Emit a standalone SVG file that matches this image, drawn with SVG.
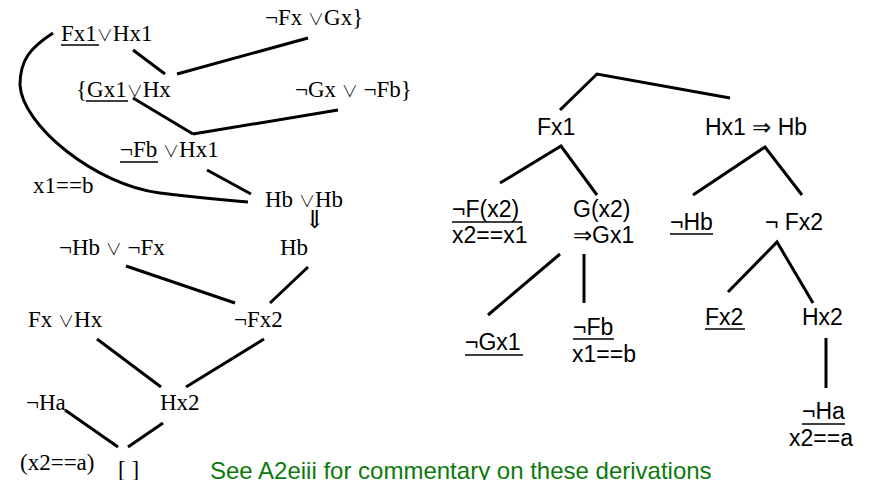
<svg xmlns="http://www.w3.org/2000/svg" width="875" height="480" viewBox="0 0 875 480">
<style>
.s{font-family:"Liberation Serif","Times New Roman",serif;font-size:23px;fill:#000}
.a{font-family:"Liberation Sans",Arial,sans-serif;font-size:23px;fill:#000}
.g{font-family:"Liberation Sans",Arial,sans-serif;font-size:24px;fill:#0b7a0b}
.v{font-family:"Noto Sans CJK JP","DejaVu Sans",sans-serif;font-weight:300;font-size:16px}
.d{font-family:"DejaVu Serif",serif;font-size:25px;fill:#000}
.c line,.c path{stroke:#000;stroke-width:3;fill:none}
.u{stroke:#000;stroke-width:1.5}
</style>
<rect width="875" height="480" fill="#fff"/>
<g id="connectors" class="c">
<line x1="133" y1="50" x2="165" y2="74"/>
<line x1="177" y1="74" x2="308" y2="38"/>
<line x1="133" y1="98" x2="193" y2="134"/>
<line x1="193" y1="134" x2="338" y2="110"/>
<path d="M53,33 C30,48 20,60 20,85 C22,125 95,185 160,193 C200,198 225,200 248,202"/>
<line x1="207" y1="170" x2="251" y2="194"/>
<line x1="126" y1="266" x2="235" y2="303"/>
<line x1="308" y1="267" x2="270" y2="303"/>
<line x1="97" y1="339" x2="161" y2="387"/>
<line x1="264" y1="339" x2="186" y2="387"/>
<line x1="65" y1="410" x2="118" y2="447"/>
<line x1="163" y1="423" x2="128" y2="447"/>
<path d="M560,110 L597,74 L730,98"/>
<path d="M500,183 L561,146 L597,195"/>
<path d="M693,195 L765,147 L802,195"/>
<line x1="560" y1="254" x2="488" y2="315"/>
<line x1="584" y1="254" x2="584" y2="303"/>
<path d="M728,292 L777,242 L813,303"/>
<line x1="826" y1="338" x2="826" y2="388"/>
</g>
<g id="n-fx1hx1"><text class="s" x="61" y="41">Fx1<tspan class="v">∨</tspan>Hx1</text><line class="u" x1="61" y1="45" x2="99" y2="45"/></g>
<g id="n-fxgx"><text class="s" x="265" y="25">¬Fx <tspan class="v">∨</tspan>Gx}</text></g>
<g id="n-gx1hx"><text class="s" x="76" y="97">{Gx1<tspan class="v">∨</tspan>Hx</text><line class="u" x1="86" y1="101" x2="128" y2="101"/></g>
<g id="n-gxfb"><text class="s" x="295" y="97">¬Gx <tspan class="v">∨</tspan> ¬Fb}</text></g>
<g id="n-fbhx1"><text class="s" x="120" y="157">¬Fb <tspan class="v">∨</tspan>Hx1</text><line class="u" x1="120" y1="162" x2="158" y2="162"/></g>
<g id="n-x1b"><text class="s" x="33" y="193">x1==b</text></g>
<g id="n-hbhb"><text class="s" x="265" y="207">Hb <tspan class="v">∨</tspan>Hb</text><text class="d" x="315" y="228" text-anchor="middle">⇓</text></g>
<g id="n-hbfx"><text class="s" x="59" y="255">¬Hb <tspan class="v">∨</tspan> ¬Fx</text></g>
<g id="n-hb"><text class="s" x="280" y="255">Hb</text></g>
<g id="n-fxhx"><text class="s" x="28" y="327">Fx <tspan class="v">∨</tspan>Hx</text></g>
<g id="n-fx2"><text class="s" x="234" y="327">¬Fx2</text></g>
<g id="n-ha"><text class="s" x="26" y="410">¬Ha</text></g>
<g id="n-hx2"><text class="s" x="160" y="410">Hx2</text></g>
<g id="n-x2a"><text class="s" x="20" y="470">(x2==a)</text></g>
<g id="n-empty"><text class="s" x="118" y="477">[ ]</text></g>
<g id="r-fx1"><text class="a" x="537" y="135">Fx1</text></g>
<g id="r-hx1hb"><text class="a" x="705" y="135">Hx1 ⇒ Hb</text></g>
<g id="r-fx2x1"><text class="a" x="452" y="217">¬F(x2)</text><line class="u" x1="452" y1="222" x2="522" y2="222"/><text class="a" x="452" y="243">x2==x1</text></g>
<g id="r-gx2"><text class="a" x="573" y="217">G(x2)</text><text class="a" x="573" y="243">⇒Gx1</text></g>
<g id="r-hb"><text class="a" x="670" y="230">¬Hb</text><line class="u" x1="670" y1="234" x2="713" y2="234"/></g>
<g id="r-nfx2"><text class="a" x="765" y="230">¬ Fx2</text></g>
<g id="r-gx1"><text class="a" x="465" y="350">¬Gx1</text><line class="u" x1="465" y1="355" x2="523" y2="355"/></g>
<g id="r-fb"><text class="a" x="573" y="335">¬Fb</text><line class="u" x1="573" y1="339" x2="614" y2="339"/><text class="a" x="572" y="362">x1==b</text></g>
<g id="r-fx2"><text class="a" x="705" y="325">Fx2</text><line class="u" x1="705" y1="329" x2="745" y2="329"/></g>
<g id="r-hx2"><text class="a" x="802" y="325">Hx2</text></g>
<g id="r-ha"><text class="a" x="802" y="419">¬Ha</text><line class="u" x1="802" y1="424" x2="845" y2="424"/><text class="a" x="789" y="446">x2==a</text></g>
<text class="g" x="210" y="479">See A2eiii for commentary on these derivations</text>
</svg>
